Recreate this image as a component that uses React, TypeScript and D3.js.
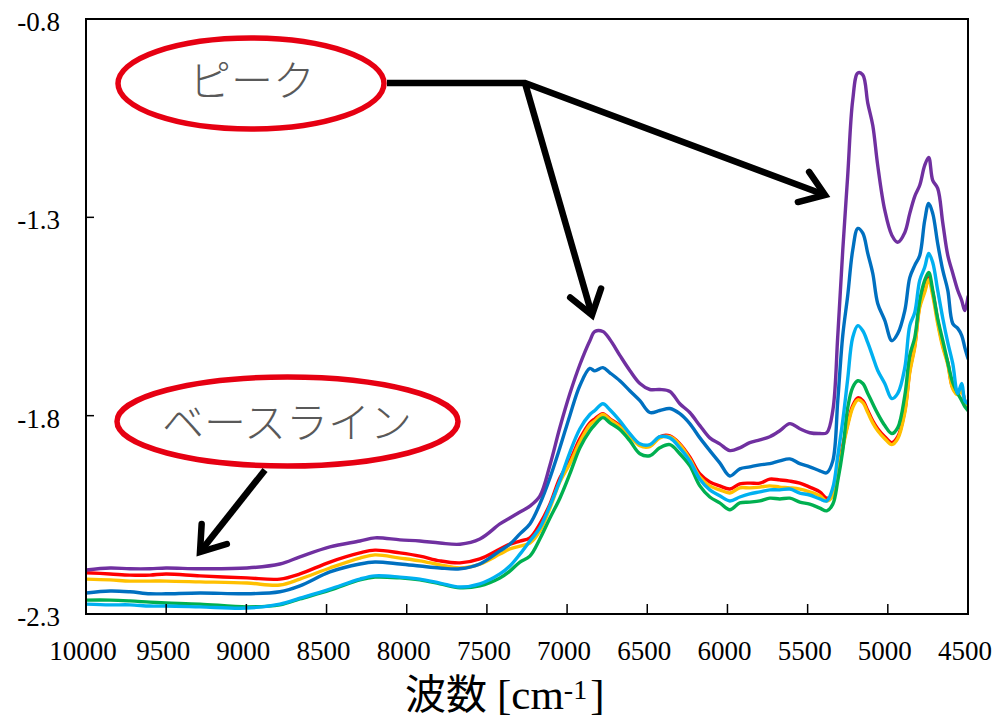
import React from "react";
import * as d3 from "d3";

// ---- data ----
const wavenumbers = [
  10000, 9850, 9726, 9601, 9501, 9289, 8996, 8791, 8666, 8479, 8292, 8198, 8042, 7918, 7793, 7668,
  7544, 7419, 7357, 7294, 7232, 7170, 7107, 7045, 6983, 6920, 6858, 6827, 6777, 6733, 6671, 6609,
  6546, 6484, 6422, 6359, 6297, 6235, 6172, 6110, 6048, 5985, 5923, 5861, 5798, 5736, 5674, 5611,
  5549, 5487, 5424, 5381, 5343, 5312, 5281, 5250, 5219, 5187, 5156, 5125, 5094, 5063, 5019, 4975,
  4938, 4894, 4863, 4832, 4801, 4770, 4745, 4720, 4689, 4657, 4626, 4595, 4564, 4539, 4520, 4500,
];

const purple = [
  -2.189, -2.184, -2.186, -2.186, -2.184, -2.186, -2.184, -2.174, -2.156, -2.131, -2.116, -2.108, -2.113, -2.116, -2.121, -2.124,
  -2.111, -2.073, -2.058, -2.043, -2.028, -2.003, -1.925, -1.830, -1.745, -1.671, -1.611, -1.588, -1.588, -1.608, -1.648, -1.686,
  -1.719, -1.734, -1.734, -1.739, -1.770, -1.792, -1.825, -1.856, -1.871, -1.888, -1.881, -1.868, -1.861, -1.853, -1.838, -1.820,
  -1.833, -1.843, -1.845, -1.843, -1.787, -1.598, -1.383, -1.194, -1.005, -0.936, -0.941, -1.012, -1.068, -1.169, -1.282, -1.345,
  -1.363, -1.338, -1.290, -1.247, -1.219, -1.169, -1.149, -1.207, -1.227, -1.315, -1.396, -1.441, -1.484, -1.510, -1.535, -1.500,
];

const darkBlue = [
  -2.247, -2.242, -2.244, -2.249, -2.249, -2.247, -2.249, -2.244, -2.229, -2.194, -2.174, -2.169, -2.174, -2.179, -2.184, -2.186,
  -2.174, -2.141, -2.124, -2.098, -2.073, -2.023, -1.957, -1.881, -1.800, -1.724, -1.681, -1.687, -1.679, -1.692, -1.712, -1.737,
  -1.762, -1.792, -1.787, -1.782, -1.795, -1.820, -1.856, -1.888, -1.919, -1.952, -1.934, -1.929, -1.924, -1.921, -1.914, -1.909,
  -1.921, -1.929, -1.939, -1.944, -1.914, -1.762, -1.598, -1.497, -1.383, -1.328, -1.340, -1.391, -1.441, -1.517, -1.560, -1.611,
  -1.593, -1.535, -1.452, -1.421, -1.396, -1.308, -1.265, -1.290, -1.366, -1.434, -1.484, -1.568, -1.580, -1.598, -1.628, -1.656,
];

const lightBlue = [
  -2.275, -2.277, -2.277, -2.280, -2.280, -2.282, -2.285, -2.275, -2.260, -2.237, -2.212, -2.204, -2.207, -2.212, -2.222, -2.232,
  -2.224, -2.199, -2.179, -2.149, -2.116, -2.083, -2.027, -1.964, -1.893, -1.833, -1.797, -1.787, -1.770, -1.785, -1.813, -1.845,
  -1.871, -1.873, -1.853, -1.856, -1.881, -1.914, -1.960, -1.987, -2.002, -2.015, -2.005, -1.997, -1.992, -1.987, -1.987, -1.985,
  -1.995, -2.000, -2.010, -2.015, -1.982, -1.901, -1.813, -1.707, -1.603, -1.573, -1.586, -1.616, -1.651, -1.686, -1.719, -1.757,
  -1.744, -1.679, -1.573, -1.540, -1.459, -1.426, -1.391, -1.414, -1.484, -1.555, -1.616, -1.669, -1.744, -1.719, -1.762, -1.770,
];

const green = [
  -2.265, -2.265, -2.267, -2.270, -2.272, -2.275, -2.282, -2.277, -2.262, -2.240, -2.214, -2.207, -2.209, -2.214, -2.224, -2.234,
  -2.229, -2.209, -2.192, -2.169, -2.154, -2.111, -2.058, -2.008, -1.947, -1.881, -1.838, -1.823, -1.805, -1.818, -1.835, -1.863,
  -1.896, -1.901, -1.881, -1.873, -1.896, -1.926, -1.977, -2.005, -2.020, -2.037, -2.020, -2.018, -2.015, -2.008, -2.010, -2.008,
  -2.018, -2.023, -2.033, -2.040, -2.023, -1.964, -1.888, -1.780, -1.729, -1.712, -1.719, -1.744, -1.770, -1.795, -1.825, -1.845,
  -1.830, -1.749, -1.648, -1.603, -1.510, -1.459, -1.439, -1.484, -1.555, -1.611, -1.666, -1.717, -1.744, -1.762, -1.777, -1.787,
];

const red = [
  -2.196, -2.199, -2.202, -2.202, -2.199, -2.204, -2.209, -2.212, -2.199, -2.169, -2.146, -2.139, -2.146, -2.154, -2.166, -2.171,
  -2.161, -2.136, -2.124, -2.116, -2.108, -2.073, -2.023, -1.957, -1.914, -1.858, -1.818, -1.808, -1.795, -1.808, -1.825, -1.848,
  -1.873, -1.876, -1.853, -1.851, -1.871, -1.904, -1.947, -1.967, -1.977, -1.985, -1.972, -1.970, -1.970, -1.960, -1.962, -1.965,
  -1.970, -1.980, -1.992, -2.008, -1.997, -1.939, -1.876, -1.820, -1.775, -1.755, -1.762, -1.787, -1.813, -1.833, -1.853, -1.868,
  -1.853, -1.787, -1.686, -1.623, -1.522, -1.484, -1.452, -1.489, -1.560, -1.623, -1.666, -1.729, -1.744, -1.737, -1.762, -1.780,
];

const orange = [
  -2.212, -2.214, -2.217, -2.217, -2.217, -2.219, -2.222, -2.227, -2.212, -2.184, -2.159, -2.151, -2.159, -2.166, -2.176, -2.184,
  -2.174, -2.149, -2.136, -2.129, -2.121, -2.091, -2.033, -1.967, -1.921, -1.866, -1.823, -1.813, -1.797, -1.810, -1.828, -1.851,
  -1.876, -1.878, -1.856, -1.853, -1.873, -1.909, -1.955, -1.977, -1.987, -1.995, -1.982, -1.982, -1.980, -1.977, -1.980, -1.982,
  -1.985, -1.992, -2.002, -2.015, -2.002, -1.944, -1.881, -1.825, -1.780, -1.760, -1.767, -1.792, -1.818, -1.838, -1.858, -1.873,
  -1.858, -1.792, -1.691, -1.628, -1.527, -1.489, -1.457, -1.497, -1.568, -1.628, -1.671, -1.732, -1.747, -1.737, -1.765, -1.782,
];

const xTicks = [10000, 9500, 9000, 8500, 8000, 7500, 7000, 6500, 6000, 5500, 5000, 4500];
const yTicks = [-0.8, -1.3, -1.8, -2.3];

const seriesList = [
  { name: "red", values: red, color: "#FF0000" },
  { name: "orange", values: orange, color: "#FFC000" },
  { name: "green", values: green, color: "#00B050" },
  { name: "lightBlue", values: lightBlue, color: "#00B0F0" },
  { name: "darkBlue", values: darkBlue, color: "#0070C0" },
  { name: "purple", values: purple, color: "#7030A0" },
];

// ---- layout ----
const W = 1001;
const H = 721;
const left = 86;
const right = 968;
const top = 19;
const bottom = 614;

const arrowHead = (x1: number, y1: number, x2: number, y2: number, len = 28, ang = 35) => {
  const dx = x1 - x2;
  const dy = y1 - y2;
  const n = Math.hypot(dx, dy);
  const ux = dx / n;
  const uy = dy / n;
  const a = (ang * Math.PI) / 180;
  const c = Math.cos(a);
  const s = Math.sin(a);
  const p1 = [x2 + len * (ux * c - uy * s), y2 + len * (ux * s + uy * c)];
  const p2 = [x2 + len * (ux * c + uy * s), y2 + len * (-ux * s + uy * c)];
  return `M${p1[0]},${p1[1]}L${x2},${y2}L${p2[0]},${p2[1]}`;
};

export default function App() {
  const x = d3.scaleLinear().domain([10000, 4500]).range([left, right]);
  const y = d3.scaleLinear().domain([-0.8, -2.3]).range([top, bottom]);

  const line = d3
    .line<number>()
    .x((_, i) => x(wavenumbers[i]))
    .y((d) => y(d))
    .curve(d3.curveCatmullRom.alpha(0.5));

  const serif = "Liberation Serif, Times New Roman, serif";
  const cjk = "Noto Sans CJK JP, Noto Sans, sans-serif";
  const arrowStroke = 6.5;

  return (
    <svg
      width={W}
      height={H}
      style={{ position: "absolute", left: 0, top: 0, background: "#fff" }}
      xmlns="http://www.w3.org/2000/svg"
    >
      <rect x={0} y={0} width={W} height={H} fill="#fff" />
      <defs>
        <clipPath id="plotClip">
          <rect x={left} y={top} width={right - left} height={bottom - top} />
        </clipPath>
      </defs>

      {/* series */}
      <g clipPath="url(#plotClip)">
        {seriesList.map((s) => (
          <path
            key={s.name}
            d={line(s.values) || ""}
            fill="none"
            stroke={s.color}
            strokeWidth={3.4}
            strokeLinejoin="round"
            strokeLinecap="round"
          />
        ))}
      </g>

      {/* frame */}
      <rect x={left} y={top} width={right - left} height={bottom - top} fill="none" stroke="#000" strokeWidth={2} />

      {/* y ticks */}
      {yTicks.map((t) => (
        <g key={t}>
          <line x1={left} x2={left + 8} y1={y(t)} y2={y(t)} stroke="#000" strokeWidth={1.5} />
          <text x={60} y={y(t) + 12} textAnchor="end" fontFamily={serif} fontSize={27} fill="#000">
            {t.toFixed(1)}
          </text>
        </g>
      ))}

      {/* x ticks */}
      {xTicks.map((t) => (
        <g key={t}>
          <line x1={x(t)} x2={x(t)} y1={bottom} y2={bottom - 10} stroke="#000" strokeWidth={1.5} />
          <text x={x(t) - 3} y={660} textAnchor="middle" fontFamily={serif} fontSize={27} fill="#000">
            {t}
          </text>
        </g>
      ))}

      {/* axis title */}
      <text x={405} y={709} fontFamily={cjk} fontSize={41} fill="#000">
        波数
      </text>
      <text x={497} y={709} fontFamily={serif} fontSize={43} fill="#000">
        [cm
        <tspan dy={-10} fontSize={28}>
          -1
        </tspan>
        <tspan dy={10} dx={3}>
          ]
        </tspan>
      </text>

      {/* annotations */}
      <ellipse cx={251} cy={83.5} rx={133} ry={45.5} fill="#fff" stroke="#E60012" strokeWidth={5.5} />
      <text x={252} y={96} textAnchor="middle" fontFamily={cjk} fontSize={42} fontWeight={300} fill="#595959">
        ピーク
      </text>
      <path
        d="M387,83L525,83L825,195"
        fill="none"
        stroke="#000"
        strokeWidth={arrowStroke}
        strokeLinejoin="miter"
        strokeLinecap="butt"
      />
      <path d="M525,83L592,315" fill="none" stroke="#000" strokeWidth={arrowStroke} strokeLinecap="butt" />
      <path d={arrowHead(525, 83, 825, 195)} fill="none" stroke="#000" strokeWidth={arrowStroke} strokeLinecap="round" strokeLinejoin="miter" />
      <path d={arrowHead(525, 83, 592, 315)} fill="none" stroke="#000" strokeWidth={arrowStroke} strokeLinecap="round" strokeLinejoin="miter" />

      <ellipse cx={287.5} cy={421.5} rx={170.5} ry={44.5} fill="#fff" stroke="#E60012" strokeWidth={5.5} />
      <text x={287} y={438} textAnchor="middle" fontFamily={cjk} fontSize={42} fontWeight={300} fill="#595959">
        ベースライン
      </text>
      <path d="M265,470L200,552" fill="none" stroke="#000" strokeWidth={arrowStroke} strokeLinecap="butt" />
      <path d={arrowHead(265, 470, 200, 552)} fill="none" stroke="#000" strokeWidth={arrowStroke} strokeLinecap="round" strokeLinejoin="miter" />
    </svg>
  );
}
